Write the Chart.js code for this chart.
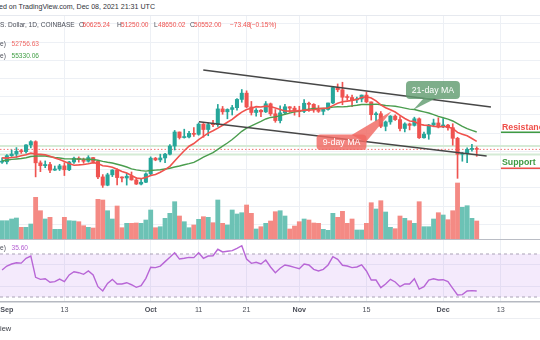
<!DOCTYPE html>
<html>
<head>
<meta charset="utf-8">
<script src="https://cdn.jsdelivr.net/npm/chart.js@4.4.1/dist/chart.umd.min.js"></script>
<style>
  body { margin: 0; background: #fff; }
  #wrap { position: relative; width: 540px; height: 340px; overflow: hidden; font-family: 'Liberation Sans', Arial, sans-serif; }
  .t { position: absolute; white-space: nowrap; line-height: 1; color: #4b4e58; }
  .r { color: #ef5350; }
  canvas { position: absolute; left: 0; }
</style>
</head>
<body>
<div id="wrap">
  <div class="t" style="left:-1px;top:4px;font-size:7.1px;color:#30333b">ed on TradingView.com, Dec 08, 2021 21:31 UTC</div>
  <div style="position:absolute;left:0;top:15px;width:540px;height:1px;background:#e6e9ef"></div>
  <canvas id="main" width="540" height="223" style="top:16px"></canvas>
  <div style="position:absolute;left:0;top:238.5px;width:540px;height:1.5px;background:#babdc5"></div>
  <canvas id="rsi" width="540" height="78" style="top:240px"></canvas>
  <div style="position:absolute;left:0;top:318px;width:540px;height:1px;background:#eceef2"></div>

  <!-- symbol line -->
  <div class="t" style="left:0;top:21.5px;font-size:6.6px">S. Dollar, 1D, COINBASE</div>
  <div class="t" style="left:79px;top:21.5px;font-size:6.6px">O</div>
  <div class="t r" style="left:82.5px;top:21.5px;font-size:6.6px">50625.24</div>
  <div class="t" style="left:117px;top:21.5px;font-size:6.6px">H</div>
  <div class="t r" style="left:121px;top:21.5px;font-size:6.6px">51250.00</div>
  <div class="t" style="left:154px;top:21.5px;font-size:6.6px">L</div>
  <div class="t r" style="left:158px;top:21.5px;font-size:6.6px">48650.02</div>
  <div class="t" style="left:190px;top:21.5px;font-size:6.6px">C</div>
  <div class="t r" style="left:194px;top:21.5px;font-size:6.6px">50552.00</div>
  <div class="t r" style="left:230px;top:21.5px;font-size:6.6px">−73.48</div>
  <div class="t r" style="left:249.5px;top:21.5px;font-size:6.6px">(−0.15%)</div>

  <!-- indicator legends -->
  <div class="t" style="left:0;top:40.5px;font-size:6.6px">e)</div>
  <div class="t r" style="left:11.5px;top:40.5px;font-size:6.6px;color:#f06a66">52756.63</div>
  <div class="t" style="left:0;top:52.5px;font-size:6.6px">e)</div>
  <div class="t" style="left:11.5px;top:52.5px;font-size:6.6px;color:#43a047">55330.06</div>
  <div class="t" style="left:0;top:244.5px;font-size:6.6px">e)</div>
  <div class="t" style="left:11.5px;top:244.5px;font-size:6.6px;color:#b45fd2">35.60</div>

  <div class="t" style="left:0;top:325px;font-size:7.5px;color:#3a3d45">iew</div>
</div>

<script>
// daily candles, Aug 31 .. Dec 8 2021 (index 0 = Aug 31)
const openP = [47050,47150,48830,49280,50030,49940,51770,52680,46860,46070,
  46390,44850,45170,46030,44950,47100,48130,47770,47290,48310,
  47250,42990,40710,43570,44880,42810,42700,43180,42170,41030,
  41530,43820,48140,47660,48200,49230,51480,55330,53800,53960,
  54960,54690,57480,56010,57370,57350,61670,60880,61530,62020,
  64280,66000,62210,60690,61310,60860,63080,60330,58470,60590,
  62250,61880,61320,61000,63230,62930,61440,61010,61530,63300,
  67550,66940,64880,64800,64160,64400,65470,63600,60080,60350,
  56890,58100,59700,58730,56290,57550,57150,58960,53740,54740,
  57270,57810,56990,57230,56510,53600,49200,49400,50560,50625.24];

const highP = [48230,49150,50400,51050,50560,51900,52950,52920,47400,47380,
  47030,45980,46460,46900,47270,48470,48500,48160,48820,48370,
  47350,43630,44000,44980,45200,42990,43950,44350,42790,42600,
  44100,48500,48350,49230,49500,51900,55750,55340,56100,55480,
  56560,57830,57680,57800,58530,62900,62350,61700,62640,64500,
  67000,66640,63720,61750,61480,63700,63290,61500,62500,62960,
  62300,62400,62400,64250,63540,63120,62590,61550,63300,67790,
  68530,69000,65580,65450,64950,65500,66300,63600,60800,60950,
  58350,59850,60030,59550,57870,57790,59400,59200,55300,57430,
  58870,59250,59050,57450,57600,53880,49700,50960,51950,51250];

const lowP = [46730,46560,48610,48370,49460,49500,50970,43000,44440,45520,
  44160,44760,44750,43370,44700,46720,47040,46750,47050,46860,
  42500,40100,40550,43080,40800,41650,40750,42100,40900,40760,
  41420,43300,47430,47120,46900,49050,50380,53400,53650,53680,
  54100,54440,53880,54300,56820,56850,60200,58960,60000,61330,
  63500,62000,60000,59700,59560,60660,59850,58000,57800,60170,
  60700,59950,59500,60670,60960,60750,60700,60060,61350,63100,
  66380,62820,64120,62300,63400,63600,63400,58600,58400,56500,
  55650,57450,58500,55650,55350,55900,56950,53550,53650,53330,
  56750,56450,56500,55850,51700,42600,47300,46900,50050,48650.02];

const closeP = [47150,48830,49280,50030,49940,51770,52680,46860,46070,46390,
  44850,45170,46030,44950,47100,48130,47770,47290,48310,47250,
  42990,40710,43570,44880,42810,42700,43180,42170,41030,41530,
  43820,48140,47660,48200,49230,51480,55330,53800,53960,54960,
  54690,57480,56010,57370,57350,61670,60880,61530,62020,64280,
  66000,62210,60690,61310,60860,63080,60330,58470,60590,62250,
  61880,61320,61000,63230,62930,61440,61010,61530,63300,67550,
  66940,64880,64800,64160,64400,65470,63600,60080,60350,56890,
  58100,59700,58730,56290,57550,57150,58960,53740,54740,57270,
  57810,56990,57230,56510,53600,49200,49400,50560,50630,50552];

const volume = [18300,18300,20000,21000,11700,11700,15000,41700,28300,20000,
  21700,9700,9700,21700,18300,18000,17300,13300,11700,11000,
  39700,39000,28300,20000,33000,11300,15700,15700,16000,15700,
  19000,29000,11300,12300,20700,25700,37300,23000,17300,11300,
  14000,19700,22300,21700,16300,39000,15700,14000,29000,25000,
  26300,34000,25700,10000,12300,15700,18000,27300,28300,23000,
  10000,13000,17300,20000,19000,16000,15700,9700,8700,25700,
  21700,27700,15700,20000,9000,9000,15700,36300,30000,38300,
  27000,11700,10300,23000,20700,18300,15700,37300,12300,12300,
  20000,26300,24000,19300,28300,56000,31700,33300,20700,18000];

const ma9 = [48230,48160,48330,48440,48790,49090,49510,49300,49190,49100,
  48670,48210,47770,47220,46700,46190,46290,46420,46630,46900,
  46660,46070,45910,45670,45080,44510,44060,43380,42680,42510,
  42860,43360,43670,44270,44990,45910,47370,48790,50180,51420,
  52160,53240,54110,55020,55680,56390,57180,58010,58790,59860,
  60800,61490,61860,62290,62200,62440,62310,61920,61510,61100,
  61070,61130,61100,61360,61330,61460,61730,61830,61940,62580,
  63200,63630,63810,63960,64290,64790,65020,64670,63870,62760,
  62000,61430,60820,59920,59040,58330,58210,57470,57220,57130,
  56920,56730,56830,56710,56310,55220,54740,54290,53540,52756.63];

const ma21 = [47420,47570,47800,47910,48040,48270,48590,48690,48750,48740,
  48530,48350,48200,47980,47950,47910,47960,47870,47840,47770,
  47580,47270,47020,46810,46470,46120,45710,45210,44930,44710,
  44590,44740,44860,44970,45170,45380,45720,46000,46320,46640,
  47000,47690,48410,49070,49670,50570,51430,52300,53250,54360,
  55520,56400,57000,57650,58250,58910,59330,59490,59810,60200,
  60530,60850,61010,61360,61620,61810,61780,61800,61890,62160,
  62280,62230,62350,62520,62670,62890,62910,62900,62990,62810,
  62610,62510,62390,62160,61900,61620,61510,61160,60840,60550,
  60090,59610,59250,58850,58350,57620,56860,56240,55790,55330.06];

const rsi14 = [55.1,58.8,60.7,61.9,61.5,66.0,68.1,48.3,46.4,47.0,
  43.7,44.3,46.7,44.3,50.5,53.5,52.6,51.1,54.2,50.5,
  39.6,35.6,42.7,46.4,42.1,42.1,43.3,41.4,39.0,40.5,
  47.4,57.6,57.3,58.8,62.9,66.9,71.2,65.3,66.0,66.9,
  66.6,71.2,66.0,68.1,68.4,74.4,71.9,72.5,73.1,75.3,
  77.7,65.3,61.3,62.3,60.7,64.4,57.9,52.6,56.7,59.8,
  58.8,57.6,56.3,60.7,59.8,55.7,54.2,55.7,59.8,67.5,
  65.1,59.5,58.8,57.3,57.9,60.0,54.2,45.8,45.8,38.7,
  42.1,46.4,44.0,39.6,42.1,42.1,47.0,37.4,39.6,45.8,
  47.0,45.8,46.1,44.3,38.1,31.9,32.2,35.6,35.9,35.6];

// x ticks (day index) and their labels
const tickDays = [1, 13, 31, 41, 51, 62, 76, 92, 104];
const tickLabels = ['Sep', '13', 'Oct', '11', '21', 'Nov', '15', 'Dec', '13'];
const monthLabels = ['Sep', 'Oct', 'Nov', 'Dec'];
const priceTicks = [30000, 35000, 40000, 45000, 50000, 55000, 60000, 65000, 70000, 75000, 80000, 85000];
const rsiTicks = [40, 60];

// drawings on the price pane, in (day index, price)
const channelLines = [
  [[41.97, 72360], [101.97, 62200]],
  [[41.07, 58160], [101.07, 48740]]
];
const levelLines = [51480, 49150];
const maTags = [
  { text: '9-day MA', box: [65.6, 76.0, 54640, 50390], tip: [[72.9, 54500], [75.9, 52580], [81.3, 61100]], fill: 'rgba(240,104,98,0.82)' },
  { text: '21-day MA', box: [84.25, 95.5, 69340, 64390], tip: [[88.0, 64700], [90.6, 64700], [85.7, 61370]], fill: 'rgba(98,156,112,0.82)' }
];
const sideLabels = [
  { text: 'Resistance', x: 104.27, y: 56620, color: '#ef4f4a', lineY: 55250, lineColor: '#3f9a43' },
  { text: 'Support', x: 104.27, y: 46900, color: '#3f9a43', lineY: 45360, lineColor: '#ef4f4a' }
];

const UP = '#26a69a', DOWN = '#ef5350';
const VOL_UP = '#6cc2b5', VOL_DOWN = '#f48a84';
const GRID = '#edf0f5';
const FONT = "'Liberation Sans', Arial, sans-serif";
const xMin = -0.43, xMax = 112.2;

Chart.defaults.font.family = FONT;

const up = closeP.map((c, i) => c >= openP[i]);
const candleColors = up.map(u => u ? UP : DOWN);
const volColors = up.map(u => u ? VOL_UP : VOL_DOWN);
const vGrid = ctx => ctx.index === 0 ? 'rgba(0,0,0,0)' : GRID;

const pricePlugin = {
  id: 'priceDrawings',
  beforeDatasetsDraw(chart) {
    const { ctx, chartArea: a, scales: { y } } = chart;
    ctx.save();
    ctx.strokeStyle = '#d5ebd6';
    ctx.lineWidth = 2;
    levelLines.forEach(p => {
      ctx.beginPath();
      ctx.moveTo(a.left, y.getPixelForValue(p));
      ctx.lineTo(a.right, y.getPixelForValue(p));
      ctx.stroke();
    });
    const last = y.getPixelForValue(closeP[closeP.length - 1]);
    ctx.strokeStyle = 'rgba(239,83,80,0.8)';
    ctx.lineWidth = 1;
    ctx.setLineDash([1.5, 2]);
    ctx.beginPath();
    ctx.moveTo(a.left, last);
    ctx.lineTo(a.right, last);
    ctx.stroke();
    ctx.restore();
  },
  afterDatasetsDraw(chart) {
    const { ctx, chartArea: a, scales: { x, y } } = chart;
    const px = v => x.getPixelForValue(v), py = v => y.getPixelForValue(v);
    ctx.save();

    ctx.strokeStyle = '#474747';
    ctx.lineWidth = 1.5;
    channelLines.forEach(([p, q]) => {
      ctx.beginPath();
      ctx.moveTo(px(p[0]), py(p[1]));
      ctx.lineTo(px(q[0]), py(q[1]));
      ctx.stroke();
    });

    maTags.forEach(tag => {
      ctx.fillStyle = tag.fill;
      ctx.beginPath();
      tag.tip.forEach((pt, i) => i ? ctx.lineTo(px(pt[0]), py(pt[1])) : ctx.moveTo(px(pt[0]), py(pt[1])));
      ctx.closePath();
      ctx.fill();
      const x0 = px(tag.box[0]), x1 = px(tag.box[1]), y0 = py(tag.box[2]), y1 = py(tag.box[3]);
      ctx.beginPath();
      ctx.roundRect(x0, y0, x1 - x0, y1 - y0, 4);
      ctx.fill();
      ctx.fillStyle = '#ffffff';
      ctx.font = '8.8px ' + FONT;
      ctx.textAlign = 'center';
      ctx.textBaseline = 'middle';
      ctx.fillText(tag.text, (x0 + x1) / 2, (y0 + y1) / 2 + 0.5);
    });

    sideLabels.forEach(l => {
      ctx.fillStyle = l.color;
      ctx.font = 'bold 8.8px ' + FONT;
      ctx.textAlign = 'left';
      ctx.textBaseline = 'middle';
      ctx.fillText(l.text, px(l.x), py(l.y));
      ctx.strokeStyle = l.lineColor;
      ctx.lineWidth = 1.5;
      ctx.beginPath();
      ctx.moveTo(px(l.x) - 1, py(l.lineY));
      ctx.lineTo(a.right, py(l.lineY));
      ctx.stroke();
    });
    ctx.restore();
  }
};

new Chart(document.getElementById('main'), {
  type: 'bar',
  data: {
    datasets: [
      { type: 'line', label: 'MA 9', data: ma9.map((v, i) => ({ x: i, y: v })),
        borderColor: '#f0524d', borderWidth: 1.6, pointRadius: 0, order: 0 },
      { type: 'line', label: 'MA 21', data: ma21.map((v, i) => ({ x: i, y: v })),
        borderColor: '#4a9d4e', borderWidth: 1.4, pointRadius: 0, order: 1 },
      { label: 'Body', data: openP.map((o, i) => ({ x: i, y: [o, closeP[i]] })),
        backgroundColor: candleColors, barThickness: 3.4, minBarLength: 1, order: 2 },
      { label: 'Wick', data: lowP.map((l, i) => ({ x: i, y: [l, highP[i]] })),
        backgroundColor: candleColors, barThickness: 1, order: 3 },
      { label: 'Volume', data: volume.map((v, i) => ({ x: i, y: v })),
        backgroundColor: volColors, barThickness: 4.2, yAxisID: 'yv', order: 4 }
    ]
  },
  options: {
    responsive: false,
    animation: false,
    devicePixelRatio: 1,
    layout: { padding: 0 },
    datasets: { bar: { grouped: false, borderWidth: 0 } },
    plugins: { legend: { display: false }, tooltip: { enabled: false } },
    scales: {
      x: {
        type: 'linear', min: xMin, max: xMax, offset: false,
        border: { display: false },
        grid: { color: vGrid, drawTicks: false, offset: false },
        ticks: { display: false },
        afterBuildTicks: s => { s.ticks = tickDays.map(v => ({ value: v })); },
        afterFit: s => { s.height = 0; s.paddingLeft = 0; s.paddingRight = 0; }
      },
      y: {
        type: 'linear', position: 'right', min: 25936, max: 87195,
        border: { display: false },
        grid: { color: GRID, drawTicks: false },
        ticks: { display: false },
        afterBuildTicks: s => { s.ticks = priceTicks.map(v => ({ value: v })); },
        afterFit: s => { s.width = 0; s.paddingTop = 0; s.paddingBottom = 0; }
      },
      yv: { type: 'linear', display: false, min: 0, max: 223000 }
    }
  },
  plugins: [pricePlugin]
});

const rsiBand = {
  id: 'rsiBand',
  beforeDatasetsDraw(chart) {
    const { ctx, chartArea: a, scales: { y } } = chart;
    const y70 = y.getPixelForValue(70), y30 = y.getPixelForValue(30);
    ctx.save();
    ctx.fillStyle = 'rgba(170,95,230,0.13)';
    ctx.fillRect(a.left, y70, a.right - a.left, y30 - y70);
    ctx.strokeStyle = '#aaa3b6';
    ctx.lineWidth = 1;
    ctx.setLineDash([3, 3]);
    [y70, y30].forEach(v => {
      ctx.beginPath();
      ctx.moveTo(a.left, v);
      ctx.lineTo(a.right, v);
      ctx.stroke();
    });
    ctx.restore();
  }
};

new Chart(document.getElementById('rsi'), {
  type: 'line',
  data: {
    datasets: [{ label: 'RSI', data: rsi14.map((v, i) => ({ x: i, y: v })),
      borderColor: '#b866d6', borderWidth: 1.4, pointRadius: 0 }]
  },
  options: {
    responsive: false,
    animation: false,
    devicePixelRatio: 1,
    layout: { padding: 0 },
    plugins: { legend: { display: false }, tooltip: { enabled: false } },
    scales: {
      x: {
        type: 'linear', min: xMin, max: xMax, offset: false,
        border: { display: true, color: '#b6b9c1', width: 1.5 },
        grid: { color: vGrid, drawTicks: false },
        ticks: {
          padding: 4, color: '#4d505a', autoSkip: false, maxRotation: 0,
          font: ctx => ({ size: 7.2, weight: monthLabels.includes(tickLabels[ctx.index]) ? 'bold' : 'normal' }),
          callback: (v, i) => tickLabels[i]
        },
        afterBuildTicks: s => { s.ticks = tickDays.map(v => ({ value: v })); },
        afterFit: s => { s.height = 16; s.paddingLeft = 0; s.paddingRight = 0; }
      },
      y: {
        type: 'linear', position: 'right', min: 25.35, max: 83.02,
        border: { display: false },
        grid: { color: GRID, drawTicks: false },
        ticks: { display: false },
        afterBuildTicks: s => { s.ticks = rsiTicks.map(v => ({ value: v })); },
        afterFit: s => { s.width = 0; s.paddingTop = 0; s.paddingBottom = 0; }
      }
    }
  },
  plugins: [rsiBand]
});
</script>
</body>
</html>
